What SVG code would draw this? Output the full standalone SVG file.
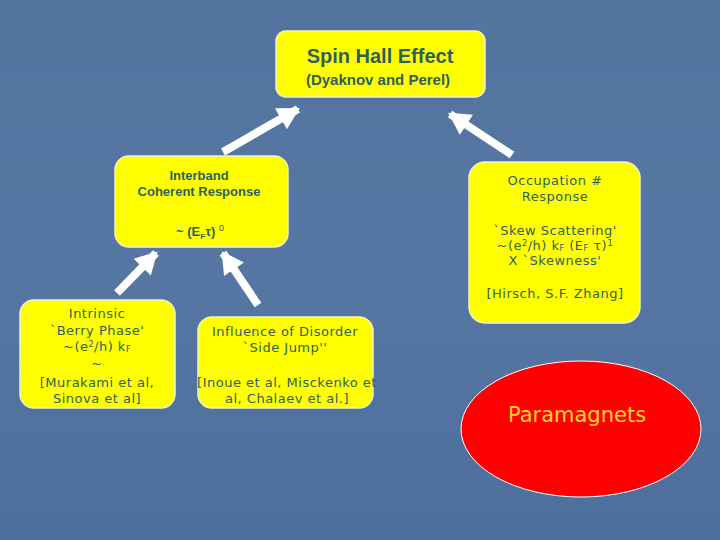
<svg xmlns="http://www.w3.org/2000/svg" width="720" height="540" viewBox="0 0 720 540">
<defs>
<linearGradient id="bg" x1="0" y1="0" x2="0" y2="1">
<stop offset="0" stop-color="#53749f"/>
<stop offset="0.5" stop-color="#5677a3"/>
<stop offset="1" stop-color="#4e6f9c"/>
</linearGradient>
<marker id="ah" markerUnits="userSpaceOnUse" markerWidth="24" markerHeight="24" viewBox="0 0 20 22" refX="18" refY="11" orient="auto">
<path d="M0,0 L20,11 L0,22 Z" fill="#ffffff"/>
</marker>
<style>
.box{fill:#ffff00;stroke:#f4f4c0;stroke-width:1.5}
.t{fill:#2f5f5f;text-anchor:middle}
.arial{font-family:"Liberation Sans",Arial,sans-serif}
.comic{font-family:"DejaVu Sans",sans-serif;font-size:13px;letter-spacing:0.5px}
.conn line{stroke:#ffffff;stroke-width:8;marker-end:url(#ah)}
</style>
</defs>
<rect x="0" y="0" width="720" height="540" fill="url(#bg)"/>

<g id="conn" class="conn">
<line x1="223" y1="152" x2="298" y2="109"/>
<line x1="512" y1="155" x2="450" y2="114"/>
<line x1="117" y1="293" x2="156" y2="253"/>
<line x1="258" y1="305" x2="223" y2="253"/>
</g>

<g id="spin-hall">
<rect class="box" x="276" y="31" width="209" height="66" rx="10"/>
<text class="t arial" x="380" y="63" font-size="20" font-weight="bold">Spin Hall Effect</text>
<text class="t arial" x="378" y="85" font-size="15" font-weight="bold">(Dyaknov and Perel)</text>
</g>

<g id="interband">
<rect class="box" x="115" y="156" width="173" height="91" rx="14"/>
<text class="t arial" x="199" y="180" font-size="13" font-weight="bold">Interband</text>
<text class="t arial" x="199" y="196" font-size="13" font-weight="bold">Coherent Response</text>
<text class="t arial" x="200" y="236" font-size="13" font-weight="bold">~ (E<tspan font-size="8" dy="3">F</tspan><tspan dy="-3">τ) </tspan><tspan font-size="9" font-weight="normal" dy="-5">0</tspan></text>
</g>

<g id="occupation">
<rect class="box" x="469" y="162" width="171" height="161" rx="16"/>
<text class="t comic" x="555" y="185">Occupation #</text>
<text class="t comic" x="555" y="201">Response</text>
<text class="t comic" x="555" y="235">`Skew Scattering'</text>
<text class="t comic" x="555" y="250">~(e<tspan font-size="8" dy="-4">2</tspan><tspan dy="4">/h) k</tspan><tspan font-size="8" dy="1">F</tspan><tspan dy="-1">  (E</tspan><tspan font-size="8" dy="1">F</tspan><tspan dy="-1"> τ)</tspan><tspan font-size="9" dy="-4">1</tspan></text>
<text class="t comic" x="555" y="265">X `Skewness'</text>
<text class="t comic" x="555" y="298">[Hirsch, S.F. Zhang]</text>
</g>

<g id="intrinsic">
<rect class="box" x="20" y="300" width="155" height="108" rx="14"/>
<text class="t comic" x="97" y="318">Intrinsic</text>
<text class="t comic" x="97" y="335">`Berry Phase'</text>
<text class="t comic" x="97" y="351">~(e<tspan font-size="8" dy="-4">2</tspan><tspan dy="4">/h) k</tspan><tspan font-size="8" dy="1">F</tspan></text>
<text class="t comic" x="97" y="368">~</text>
<text class="t comic" x="97" y="387">[Murakami et al,</text>
<text class="t comic" x="97" y="403">Sinova et al]</text>
</g>

<g id="disorder">
<rect class="box" x="198" y="317" width="175" height="91" rx="14"/>
<text class="t comic" x="285" y="336">Influence of Disorder</text>
<text class="t comic" x="285" y="352">`Side Jump''</text>
<text class="t comic" x="287" y="387">[Inoue et al, Misckenko et</text>
<text class="t comic" x="287" y="403">al, Chalaev et al.]</text>
</g>

<g id="paramagnets">
<ellipse cx="581" cy="429" rx="120" ry="68" fill="#ff0000" stroke="#ffffff" stroke-width="1"/>
<text x="577" y="422" font-family="DejaVu Sans,sans-serif" font-size="21" fill="#ffd72a" text-anchor="middle">Paramagnets</text>
</g>
</svg>
